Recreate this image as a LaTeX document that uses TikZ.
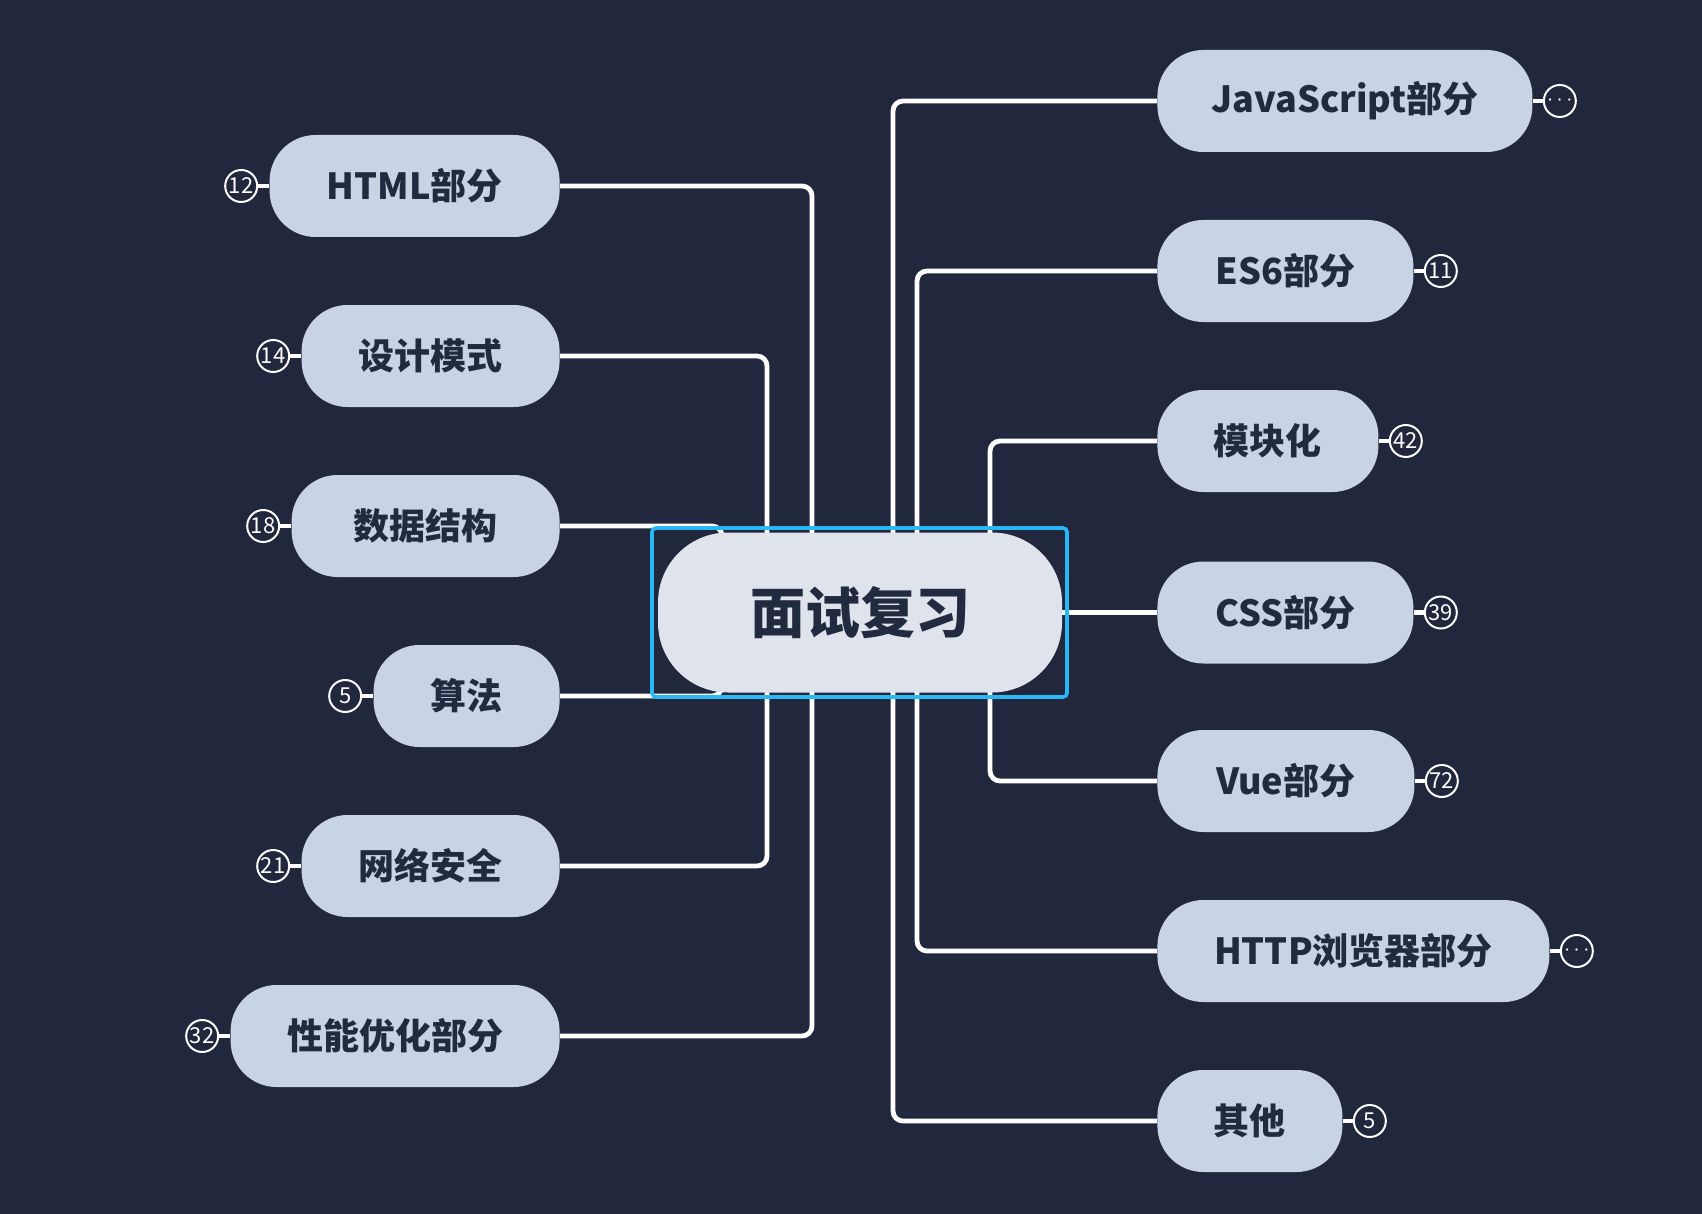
\documentclass[tikz,border=0pt]{standalone}
\usepackage{fontspec}
\setmainfont{Noto Sans CJK SC}
\usetikzlibrary{positioning}

\definecolor{bgnavy}{HTML}{21273C}
\definecolor{topicfill}{HTML}{C8D3E5}
\definecolor{rootfill}{HTML}{DFE3EC}
\definecolor{inkblue}{HTML}{222A40}
\definecolor{selblue}{HTML}{2AB7F5}

\pgfdeclarelayer{back}
\pgfsetlayers{back,main}

\tikzset{
  topic/.style={fill=topicfill, text=inkblue, rounded corners=23pt, minimum height=51pt, inner sep=0pt, font=\fontsize{18}{18}\selectfont\bfseries},
  badge/.style={circle, draw=white, line width=1pt, fill=bgnavy, text=white, minimum size=16pt, inner sep=0pt, font=\fontsize{11}{11}\selectfont},
  link/.style={draw=white, line width=2.4pt, rounded corners=5pt},
}

\begin{document}
\begin{tikzpicture}[x=0.5pt, y=-0.5pt]

% root
\node[fill=rootfill, text=inkblue, rounded corners=35pt, minimum width=202pt, minimum height=80pt, inner sep=0pt, font=\fontsize{27.5}{27.5}\selectfont\bfseries] (root) at (860,612.5) {面试复习};
\node[draw=selblue, line width=1.8pt, rounded corners=2pt, minimum width=207.5pt, minimum height=84.5pt] (sel) at (859.5,612.5) {};

% left side
\node[topic, anchor=east, minimum width=145pt] (html) at (560,186) {HTML部分};
\node[topic, anchor=east, minimum width=129pt] (design) at (560,356) {设计模式};
\node[topic, anchor=east, minimum width=134pt] (data) at (560,526) {数据结构};
\node[topic, anchor=east, minimum width=93pt] (algo) at (560,696) {算法};
\node[topic, anchor=east, minimum width=129pt] (net) at (560,866) {网络安全};
\node[topic, anchor=east, minimum width=164.5pt] (perf) at (560,1036) {性能优化部分};

% right side
\node[topic, anchor=west, minimum width=187.5pt] (js) at (1157,101) {JavaScript部分};
\node[topic, anchor=west, minimum width=128pt] (es6) at (1157,271) {ES6部分};
\node[topic, anchor=west, minimum width=110.5pt] (mod) at (1157,441) {模块化};
\node[topic, anchor=west, minimum width=128pt] (css) at (1157,612.5) {CSS部分};
\node[topic, anchor=west, minimum width=128.5pt] (vue) at (1157,781) {Vue部分};
\node[topic, anchor=west, minimum width=196pt] (http) at (1157,951) {HTTP浏览器部分};
\node[topic, anchor=west, minimum width=92.5pt] (other) at (1157,1121) {其他};

% counts
\node[badge, left=5.5pt of html] (nhtml) {12};
\node[badge, left=5.5pt of design] (ndesign) {14};
\node[badge, left=5.5pt of data] (ndata) {18};
\node[badge, left=5.5pt of algo] (nalgo) {5};
\node[badge, left=5.5pt of net] (nnet) {21};
\node[badge, left=5.5pt of perf] (nperf) {32};
\node[badge, right=5pt of js] (njs) {$\cdots$};
\node[badge, right=5pt of es6] (nes6) {11};
\node[badge, right=5pt of mod] (nmod) {42};
\node[badge, right=5pt of css] (ncss) {39};
\node[badge, right=5pt of vue] (nvue) {72};
\node[badge, right=5pt of http] (nhttp) {$\cdots$};
\node[badge, right=5pt of other] (nother) {5};

% trunks
\coordinate (l1) at (812,612.5);
\coordinate (l2) at (767,612.5);
\coordinate (l3) at (722,612.5);
\coordinate (r1) at (893,612.5);
\coordinate (r2) at (917,612.5);
\coordinate (r3) at (990,612.5);

\begin{pgfonlayer}{back}
\fill[bgnavy] (0,0) rectangle (1702,1214);

\draw[link] (html.east) -| (l1);
\draw[link] (perf.east) -| (l1);
\draw[link] (design.east) -| (l2);
\draw[link] (net.east) -| (l2);
\draw[link] (data.east) -| (l3);
\draw[link] (algo.east) -| (l3);

\draw[link] (js.west) -| (r1);
\draw[link] (other.west) -| (r1);
\draw[link] (es6.west) -| (r2);
\draw[link] (http.west) -| (r2);
\draw[link] (mod.west) -| (r3);
\draw[link] (vue.west) -| (r3);
\draw[link] (root.east) -- (css.west);

\draw[link] (html) -- (nhtml);
\draw[link] (design) -- (ndesign);
\draw[link] (data) -- (ndata);
\draw[link] (algo) -- (nalgo);
\draw[link] (net) -- (nnet);
\draw[link] (perf) -- (nperf);
\draw[link] (js) -- (njs);
\draw[link] (es6) -- (nes6);
\draw[link] (mod) -- (nmod);
\draw[link] (css) -- (ncss);
\draw[link] (vue) -- (nvue);
\draw[link] (http) -- (nhttp);
\draw[link] (other) -- (nother);
\end{pgfonlayer}

\end{tikzpicture}
\end{document}
